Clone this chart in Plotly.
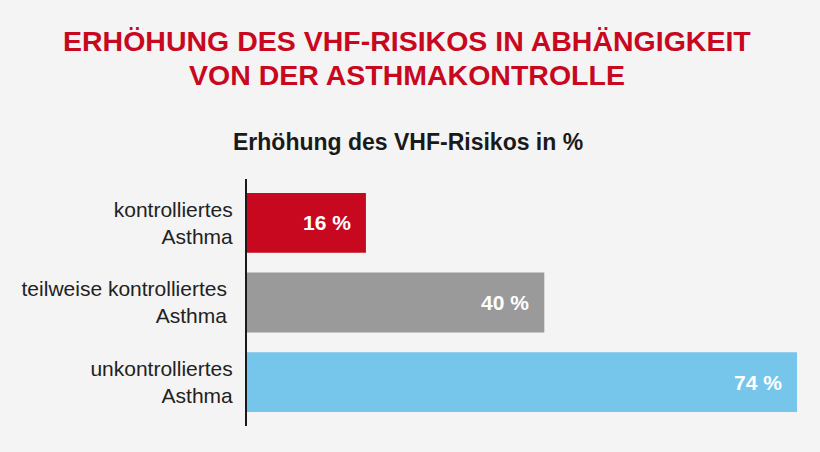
import plotly.graph_objects as go

categories = ["kontrolliertes<br>Asthma",
              "teilweise kontrolliertes\u00a0<br>Asthma\u00a0",
              "unkontrolliertes<br>Asthma"]
values = [16, 40, 74]
value_labels = ["16 %", "40 %", "74 %"]
bar_colors = ["#c8081e", "#9a9a9a", "#76c6eb"]

title_lines = ["ERHÖHUNG DES VHF-RISIKOS IN ABHÄNGIGKEIT", "VON DER ASTHMAKONTROLLE"]
subtitle = "Erhöhung des VHF-Risikos in %"

BG = "#f4f4f4"
FONT = "Liberation Sans, Arial, sans-serif"

fig = go.Figure(go.Bar(
    y=categories, x=values, orientation="h",
    marker=dict(color=bar_colors, line=dict(width=0)),
    width=0.75, hoverinfo="skip",
))

annotations = []
for c, v, t in zip(categories, values, value_labels):
    annotations.append(dict(x=v, y=c, xref="x", yref="y", text=f"<b>{t}</b>",
                            showarrow=False, xanchor="right", xshift=-13,
                            font=dict(family=FONT, size=21, color="white")))

W, H = 820, 452
ml, mr, mt, mb = 247, 20, 179, 26
pw, ph = W - ml - mr, H - mt - mb

def px_to_paper(xp, yp):
    return (xp - ml) / pw, (H - mb - yp) / ph

for line, base in zip(title_lines, [53, 87]):
    xp, yp = px_to_paper(407, base + 6)
    annotations.append(dict(x=xp, y=yp, xref="paper", yref="paper",
                            text=f"<b>{line}</b>", showarrow=False,
                            xanchor="center", yanchor="bottom",
                            font=dict(family=FONT, size=28.5, color="#c8081e")))
xp, yp = px_to_paper(408, 152 + 5)
annotations.append(dict(x=xp, y=yp, xref="paper", yref="paper",
                        text=f"<b>{subtitle}</b>", showarrow=False,
                        xanchor="center", yanchor="bottom",
                        font=dict(family=FONT, size=23, color="#1a1a1a")))

fig.update_layout(
    width=W, height=H,
    margin=dict(l=ml, r=mr, t=mt, b=mb, pad=0),
    paper_bgcolor=BG, plot_bgcolor=BG,
    showlegend=False,
    annotations=annotations,
    xaxis=dict(range=[0, 74.4], showgrid=False, zeroline=False,
               showticklabels=False, showline=False, fixedrange=True),
    yaxis=dict(range=[2.55, -0.55], showgrid=False, zeroline=False,
               showline=True, linecolor="#1a1a1a", linewidth=2,
               ticks="", ticklabelstandoff=8,
               tickfont=dict(family=FONT, size=21, color="#222222"),
               fixedrange=True),
)

fig.write_html("out.html", config={"displayModeBar": False},
               post_script="document.body.style.margin='0';"
                           "document.body.style.background='#f4f4f4';")
